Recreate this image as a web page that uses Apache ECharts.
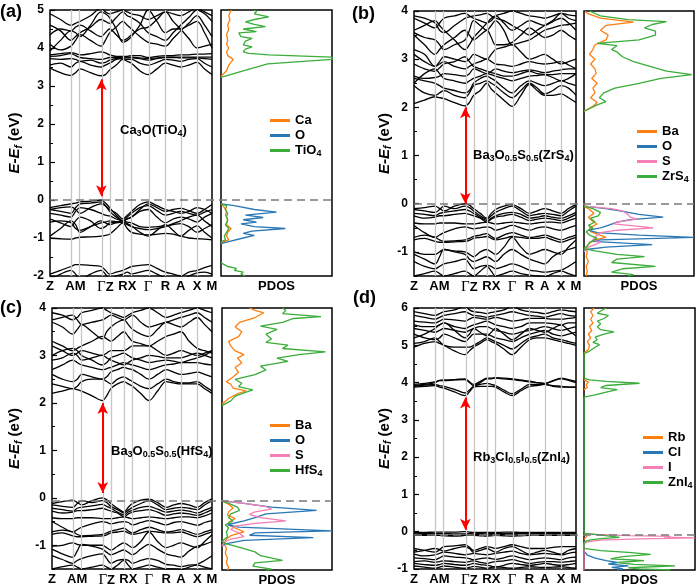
<!DOCTYPE html>
<html><head><meta charset="utf-8">
<script src="https://cdn.jsdelivr.net/npm/echarts@6/dist/echarts.min.js"></script>
<style>html,body{margin:0;padding:0;background:#fff}#c{width:700px;height:588px}</style>
</head><body><div id="c"></div><script>
// ---------- k-path ----------
const kPos = [0,0.065,0.13,0.158,0.185,0.25,0.315,0.342,0.368,0.409,0.45,0.477,0.503,0.555,0.606,0.66,0.713,0.76,0.806,0.857,0.908,0.954,1.0];
const symK = [0.13,0.185,0.315,0.368,0.45,0.503,0.606,0.713,0.806,0.908];
const kLabelPos = [0,0.157,0.342,0.477,0.606,0.713,0.806,0.908,1];
const kLabels = ['Z','AM','ΓZ','RX','Γ','R','A','X','M'];
const gammaK = 0.317;

// ---------- (a) Ca3O(TiO4) bands ----------
const bandsA = [
[3.47,3.35,3.28,3.35,3.45,3.35,3.27,3.3,3.42,3.55,3.7,3.65,3.6,3.4,3.3,3.45,3.6,3.55,3.5,3.55,3.62,3.45,3.3],
[3.55,3.6,3.5,3.6,3.65,3.55,3.5,3.55,3.6,3.7,3.72,3.7,3.7,3.6,3.55,3.62,3.7,3.68,3.65,3.7,3.72,3.6,3.5],
[3.72,3.7,3.72,3.7,3.65,3.68,3.6,3.62,3.68,3.72,3.74,3.74,3.74,3.72,3.68,3.72,3.75,3.75,3.74,3.74,3.74,3.72,3.7],
[3.78,3.8,3.85,3.8,3.75,3.72,3.7,3.72,3.75,3.75,3.76,3.76,3.76,3.74,3.72,3.74,3.76,3.76,3.76,3.76,3.76,3.76,3.76],
[3.82,3.85,3.88,3.85,3.82,3.85,3.9,3.87,3.82,3.78,3.78,3.78,3.8,3.8,3.75,3.78,3.8,3.8,3.82,3.82,3.84,3.84,3.85],
[3.92,4.2,4.45,4.4,4.3,4.6,4.95,4.9,4.8,4.5,4.15,4.2,4.3,4.6,5.0,4.7,4.4,4.5,4.5,4.6,4.7,4.4,4.0],
[4.35,4.5,4.45,4.55,4.6,4.45,4.3,4.4,4.5,4.35,4.2,4.25,4.35,4.5,4.55,4.75,4.95,4.7,4.5,4.25,4.0,4.05,4.1],
[4.6,4.45,4.2,4.3,4.4,4.55,4.75,4.7,4.65,4.8,4.95,4.85,4.8,4.65,4.4,4.3,4.2,4.4,4.6,4.8,5.0,4.9,4.7],
[4.9,4.75,4.6,4.65,4.7,4.85,5.05,4.95,4.9,4.95,5.0,4.95,4.9,4.85,4.75,4.85,4.95,4.9,4.85,4.95,5.05,4.95,4.85],
[4.1,3.95,4.05,4.2,4.35,4.2,4.05,4.2,4.4,4.55,4.7,4.6,4.5,4.3,4.15,4.1,4.05,4.25,4.45,4.65,4.85,4.6,4.3],
[-0.2,-0.15,-0.1,-0.08,-0.05,-0.03,0,-0.08,-0.2,-0.4,-0.55,-0.5,-0.45,-0.25,-0.1,-0.2,-0.3,-0.25,-0.22,-0.28,-0.35,-0.25,-0.12],
[-0.25,-0.3,-0.35,-0.2,-0.1,-0.08,-0.05,-0.15,-0.3,-0.45,-0.55,-0.45,-0.35,-0.2,-0.15,-0.28,-0.4,-0.35,-0.3,-0.35,-0.4,-0.32,-0.25],
[-0.35,-0.4,-0.45,-0.3,-0.2,-0.25,-0.35,-0.4,-0.42,-0.5,-0.55,-0.5,-0.45,-0.3,-0.25,-0.45,-0.6,-0.5,-0.45,-0.5,-0.58,-0.45,-0.35],
[-0.5,-0.6,-0.7,-0.55,-0.45,-0.55,-0.75,-0.7,-0.6,-0.58,-0.55,-0.58,-0.6,-0.7,-0.72,-0.7,-0.68,-0.65,-0.62,-0.7,-0.85,-0.75,-0.65],
[-0.58,-0.55,-0.6,-0.75,-0.8,-0.7,-0.6,-0.58,-0.55,-0.57,-0.6,-0.65,-0.7,-0.75,-0.78,-0.75,-0.7,-0.62,-0.55,-0.45,-0.4,-0.55,-0.7],
[-0.95,-0.75,-0.55,-0.65,-0.85,-0.7,-0.55,-0.6,-0.65,-0.6,-0.58,-0.62,-0.68,-0.85,-0.95,-0.8,-0.65,-0.8,-0.95,-0.8,-0.68,-0.85,-1.0],
[-1.0,-1.02,-1.03,-1.0,-0.98,-0.97,-0.95,-0.93,-0.9,-0.75,-0.6,-0.75,-0.85,-0.9,-0.92,-0.9,-0.88,-0.9,-0.95,-1.0,-1.02,-1.03,-1.05],
[-0.25,-0.2,-0.18,-0.25,-0.35,-0.2,-0.1,-0.15,-0.25,-0.35,-0.5,-0.4,-0.3,-0.12,-0.05,-0.15,-0.25,-0.3,-0.35,-0.3,-0.2,-0.25,-0.35],
[-1.95,-1.85,-1.75,-1.7,-1.7,-1.72,-1.75,-1.85,-1.95,-1.9,-1.85,-1.8,-1.75,-1.72,-1.7,-1.8,-1.9,-1.95,-2.0,-1.9,-1.85,-1.78,-1.72],
[-2.1,-1.95,-1.85,-1.95,-2.1,-1.95,-1.85,-1.95,-2.1,-2.0,-1.95,-1.9,-1.95,-1.9,-1.85,-1.95,-2.05,-2.1,-2.1,-2.0,-1.92,-1.9,-1.95]
];
// ---------- (b) Ba3O0.5S0.5(ZrS4) bands ----------
const bandsB = [
[2.08,2.15,2.22,2.2,2.18,2.1,2.03,2.1,2.25,2.35,2.5,2.38,2.3,2.15,2.02,2.25,2.48,2.35,2.25,2.25,2.28,2.2,2.1],
[2.45,2.3,2.25,2.3,2.35,2.25,2.2,2.3,2.45,2.5,2.55,2.5,2.45,2.3,2.2,2.35,2.5,2.4,2.28,2.35,2.45,2.4,2.25],
[2.6,2.55,2.5,2.45,2.4,2.35,2.3,2.35,2.5,2.6,2.65,2.6,2.55,2.4,2.3,2.45,2.55,2.5,2.45,2.5,2.55,2.5,2.45],
[2.5,2.7,2.8,2.7,2.6,2.55,2.5,2.55,2.6,2.65,2.7,2.68,2.65,2.6,2.55,2.6,2.65,2.66,2.68,2.68,2.7,2.7,2.7],
[2.65,2.6,2.62,2.65,2.7,2.68,2.65,2.7,2.8,2.75,2.7,2.75,2.8,2.75,2.72,2.75,2.78,2.75,2.72,2.75,2.78,2.8,2.8],
[3.1,2.95,2.85,2.9,2.95,2.85,2.8,2.85,2.9,2.95,3.0,2.95,2.9,2.88,2.85,2.9,2.95,2.92,2.9,2.92,2.95,2.88,2.8],
[3.2,3.1,2.85,2.95,3.05,3.0,2.95,3.0,3.1,3.05,3.0,3.1,3.2,3.25,3.3,3.15,3.0,3.05,3.1,3.0,2.9,2.95,3.0],
[3.5,3.3,3.1,3.2,3.3,3.45,3.6,3.5,3.4,3.5,3.6,3.45,3.3,3.3,3.35,3.5,3.65,3.55,3.45,3.5,3.6,3.5,3.4],
[3.55,3.45,3.4,3.3,3.2,3.3,3.4,3.6,3.8,3.7,3.6,3.7,3.8,3.6,3.3,3.35,3.4,3.5,3.6,3.65,3.7,3.72,3.75],
[3.6,3.7,3.8,3.7,3.6,3.4,3.2,3.3,3.45,3.6,3.75,3.85,3.9,3.75,3.6,3.7,3.8,3.75,3.7,3.78,3.85,3.75,3.6],
[3.85,3.75,3.65,3.75,3.85,3.9,3.95,3.9,3.85,3.8,3.75,3.8,3.9,3.95,4.0,3.95,3.9,3.88,3.85,3.9,3.95,3.92,3.9],
[3.9,3.85,3.75,3.6,3.55,3.7,3.85,3.88,3.9,3.92,3.95,3.9,3.85,3.8,3.7,3.6,3.5,3.6,3.7,3.8,3.95,3.85,3.8],
[2.9,2.8,2.75,2.82,2.9,2.95,3.05,2.95,2.85,2.8,2.75,2.72,2.7,2.65,2.65,2.7,2.75,2.7,2.68,2.62,2.55,2.6,2.7],
[-0.1,-0.08,-0.05,-0.1,-0.15,-0.05,0,-0.03,-0.1,-0.2,-0.3,-0.2,-0.12,-0.05,-0.02,-0.1,-0.2,-0.15,-0.1,-0.15,-0.2,-0.1,-0.02],
[-0.12,-0.15,-0.18,-0.12,-0.05,-0.1,-0.05,-0.08,-0.15,-0.25,-0.32,-0.25,-0.18,-0.1,-0.05,-0.15,-0.25,-0.22,-0.2,-0.22,-0.25,-0.15,-0.05],
[-0.2,-0.22,-0.25,-0.2,-0.18,-0.15,-0.12,-0.15,-0.2,-0.28,-0.35,-0.3,-0.25,-0.2,-0.18,-0.22,-0.3,-0.28,-0.25,-0.28,-0.3,-0.25,-0.18],
[-0.25,-0.3,-0.28,-0.25,-0.25,-0.22,-0.2,-0.22,-0.25,-0.3,-0.38,-0.32,-0.28,-0.25,-0.22,-0.28,-0.35,-0.32,-0.3,-0.32,-0.35,-0.3,-0.22],
[-0.4,-0.42,-0.42,-0.4,-0.4,-0.4,-0.42,-0.42,-0.42,-0.4,-0.38,-0.4,-0.42,-0.4,-0.38,-0.4,-0.42,-0.4,-0.38,-0.38,-0.4,-0.35,-0.3],
[-0.45,-0.6,-0.7,-0.65,-0.6,-0.52,-0.48,-0.5,-0.52,-0.5,-0.48,-0.5,-0.55,-0.5,-0.45,-0.5,-0.55,-0.5,-0.48,-0.52,-0.55,-0.5,-0.45],
[-0.7,-0.65,-0.7,-0.75,-0.78,-0.77,-0.75,-0.72,-0.68,-0.65,-0.62,-0.68,-0.72,-0.65,-0.6,-0.65,-0.7,-0.68,-0.65,-0.7,-0.75,-0.7,-0.65],
[-0.75,-0.72,-0.78,-0.8,-0.8,-0.79,-0.78,-0.76,-0.72,-0.7,-0.68,-0.72,-0.75,-0.72,-0.68,-0.7,-0.72,-0.72,-0.7,-0.75,-0.8,-0.75,-0.7],
[-1.0,-1.05,-1.05,-1.0,-0.95,-0.98,-1.0,-1.05,-1.1,-1.0,-0.95,-1.0,-1.05,-0.9,-0.7,-0.9,-1.05,-1.0,-0.95,-1.0,-1.05,-0.9,-0.75],
[-1.05,-1.15,-1.25,-1.1,-0.95,-1.0,-1.05,-1.15,-1.2,-1.15,-1.1,-1.15,-1.2,-1.05,-0.95,-1.05,-1.15,-1.2,-1.25,-1.1,-1.0,-0.95,-0.9],
[-1.2,-1.3,-1.35,-1.3,-1.25,-1.2,-1.15,-1.25,-1.35,-1.3,-1.28,-1.3,-1.35,-1.3,-1.25,-1.3,-1.38,-1.4,-1.42,-1.4,-1.38,-1.3,-1.2],
[-1.5,-1.45,-1.4,-1.45,-1.5,-1.45,-1.4,-1.45,-1.5,-1.4,-1.3,-1.4,-1.5,-1.45,-1.4,-1.45,-1.48,-1.5,-1.52,-1.45,-1.4,-1.45,-1.5]
];
// ---------- (c) Ba3O0.5S0.5(HfS4) bands ----------
const bandsC = [
[2.2,2.25,2.3,2.28,2.25,2.15,2.05,2.15,2.3,2.4,2.45,2.4,2.35,2.2,2.05,2.25,2.45,2.42,2.4,2.4,2.4,2.3,2.2],
[2.4,2.35,2.3,2.35,2.45,2.5,2.5,2.45,2.4,2.5,2.55,2.5,2.45,2.35,2.3,2.4,2.5,2.45,2.42,2.42,2.45,2.35,2.25],
[2.6,2.5,2.45,2.5,2.6,2.55,2.5,2.55,2.65,2.7,2.75,2.72,2.7,2.6,2.5,2.6,2.7,2.65,2.6,2.62,2.65,2.6,2.55],
[2.7,2.8,2.9,2.85,2.8,2.75,2.7,2.72,2.75,2.8,2.85,2.82,2.8,2.75,2.7,2.75,2.8,2.82,2.85,2.85,2.85,2.82,2.8],
[2.9,2.95,3.05,3.0,2.9,2.95,3.0,2.95,2.9,2.85,2.8,2.85,2.9,2.95,3.0,2.98,2.95,2.95,2.95,3.0,3.05,3.0,2.95],
[3.2,3.1,3.0,3.05,3.1,3.05,3.0,3.05,3.1,3.1,3.1,3.15,3.2,3.2,3.2,3.1,3.0,3.05,3.1,3.05,3.0,3.05,3.1],
[3.3,3.2,3.1,3.15,3.2,3.3,3.4,3.35,3.3,3.4,3.5,3.4,3.3,3.25,3.2,3.3,3.4,3.45,3.5,3.3,3.15,3.1,3.05],
[3.7,3.6,3.45,3.55,3.65,3.5,3.35,3.5,3.6,3.7,3.75,3.65,3.55,3.45,3.4,3.55,3.7,3.65,3.6,3.7,3.8,3.65,3.5],
[3.75,3.8,3.85,3.75,3.65,3.7,3.75,3.8,3.85,3.8,3.75,3.8,3.85,3.7,3.6,3.65,3.7,3.75,3.8,3.85,3.9,3.8,3.7],
[3.9,3.85,3.75,3.8,3.9,3.95,4.0,3.95,3.9,3.85,3.8,3.85,3.9,3.95,4.0,3.9,3.8,3.85,3.9,3.95,4.0,3.95,3.9],
[3.0,3.1,3.15,3.1,3.0,2.9,2.8,2.85,2.95,3.0,3.05,3.0,2.95,2.9,2.85,2.88,2.9,2.88,2.85,2.9,2.95,3.0,3.1],
[-0.12,-0.08,-0.05,-0.1,-0.15,-0.06,0,-0.04,-0.12,-0.22,-0.3,-0.2,-0.12,-0.05,-0.03,-0.1,-0.2,-0.15,-0.12,-0.15,-0.2,-0.1,-0.02],
[-0.15,-0.18,-0.2,-0.12,-0.06,-0.1,-0.06,-0.1,-0.18,-0.25,-0.32,-0.26,-0.2,-0.12,-0.06,-0.15,-0.25,-0.22,-0.2,-0.22,-0.25,-0.15,-0.06],
[-0.22,-0.25,-0.28,-0.22,-0.2,-0.17,-0.14,-0.18,-0.22,-0.3,-0.36,-0.3,-0.26,-0.2,-0.18,-0.24,-0.3,-0.28,-0.26,-0.28,-0.32,-0.26,-0.2],
[-0.28,-0.32,-0.3,-0.27,-0.27,-0.25,-0.22,-0.25,-0.28,-0.32,-0.4,-0.34,-0.3,-0.27,-0.25,-0.3,-0.37,-0.34,-0.32,-0.34,-0.37,-0.32,-0.25],
[-0.42,-0.44,-0.44,-0.42,-0.42,-0.42,-0.44,-0.44,-0.44,-0.42,-0.4,-0.42,-0.44,-0.42,-0.4,-0.42,-0.44,-0.42,-0.4,-0.4,-0.42,-0.38,-0.32],
[-0.5,-0.62,-0.72,-0.67,-0.62,-0.55,-0.5,-0.52,-0.55,-0.52,-0.5,-0.52,-0.57,-0.52,-0.48,-0.52,-0.57,-0.52,-0.5,-0.54,-0.58,-0.52,-0.48],
[-0.72,-0.68,-0.72,-0.77,-0.8,-0.79,-0.77,-0.74,-0.7,-0.67,-0.64,-0.7,-0.74,-0.67,-0.62,-0.67,-0.72,-0.7,-0.67,-0.72,-0.77,-0.72,-0.67],
[-0.77,-0.74,-0.8,-0.82,-0.82,-0.81,-0.8,-0.78,-0.74,-0.72,-0.7,-0.74,-0.77,-0.74,-0.7,-0.72,-0.74,-0.74,-0.72,-0.77,-0.82,-0.77,-0.72],
[-1.02,-1.0,-0.95,-0.98,-1.0,-1.0,-1.0,-1.05,-1.1,-1.02,-0.95,-1.0,-1.05,-0.92,-0.72,-0.92,-1.05,-1.0,-0.95,-1.0,-1.05,-0.92,-0.78],
[-1.08,-1.18,-1.25,-1.12,-0.98,-1.02,-1.08,-1.15,-1.2,-1.15,-1.1,-1.15,-1.2,-1.08,-0.98,-1.08,-1.18,-1.22,-1.25,-1.12,-1.02,-0.98,-0.92],
[-1.22,-1.3,-1.38,-1.32,-1.28,-1.22,-1.18,-1.28,-1.38,-1.32,-1.3,-1.32,-1.38,-1.32,-1.28,-1.32,-1.4,-1.42,-1.45,-1.42,-1.4,-1.32,-1.22],
[-1.5,-1.45,-1.42,-1.46,-1.5,-1.46,-1.42,-1.46,-1.5,-1.42,-1.32,-1.42,-1.5,-1.46,-1.42,-1.46,-1.5,-1.5,-1.52,-1.46,-1.42,-1.46,-1.5]
];
// ---------- (d) Rb3Cl0.5I0.5(ZnI4) bands ----------
const bandsD = [
[3.88,3.9,3.92,3.88,3.85,3.75,3.65,3.75,3.88,3.9,3.9,3.9,3.88,3.75,3.65,3.78,3.9,3.92,3.95,3.9,3.88,3.88,3.88],
[3.9,3.93,3.95,3.92,3.9,3.82,3.72,3.8,3.9,3.95,3.98,3.95,3.92,3.8,3.7,3.82,3.95,3.95,3.95,3.92,3.9,3.88,3.88],
[3.92,3.95,4.0,4.05,4.05,4.07,4.08,4.0,3.92,4.0,4.1,4.1,4.12,4.1,4.08,4.05,4.02,4.0,3.98,4.05,4.12,4.08,4.03],
[3.95,3.98,4.02,4.06,4.07,4.08,4.1,4.02,3.95,4.03,4.12,4.12,4.13,4.12,4.1,4.07,4.04,4.0,3.97,4.04,4.1,4.06,4.0],
[4.95,5.05,5.1,5.05,5.0,4.85,4.75,4.85,4.95,5.05,5.15,5.1,5.05,4.9,4.75,4.95,5.15,5.2,5.2,5.15,5.1,5.05,5.0],
[5.05,5.1,5.2,5.1,5.0,4.95,4.95,4.95,5.0,5.1,5.2,5.15,5.1,5.0,4.9,5.05,5.2,5.25,5.3,5.2,5.15,5.1,5.05],
[5.3,5.2,5.15,5.2,5.3,5.2,5.1,5.2,5.3,5.3,5.3,5.25,5.2,5.15,5.1,5.2,5.3,5.35,5.4,5.3,5.25,5.3,5.35],
[5.45,5.4,5.35,5.4,5.45,5.4,5.35,5.4,5.45,5.5,5.5,5.45,5.4,5.35,5.3,5.35,5.4,5.45,5.5,5.45,5.4,5.45,5.5],
[5.55,5.5,5.5,5.55,5.6,5.5,5.45,5.5,5.55,5.6,5.65,5.6,5.55,5.5,5.45,5.5,5.6,5.6,5.6,5.58,5.55,5.6,5.6],
[5.65,5.62,5.6,5.65,5.7,5.68,5.65,5.7,5.75,5.72,5.7,5.72,5.75,5.7,5.65,5.68,5.72,5.72,5.72,5.7,5.7,5.72,5.75],
[5.8,5.75,5.7,5.75,5.8,5.85,5.9,5.85,5.8,5.78,5.75,5.78,5.8,5.85,5.9,5.85,5.8,5.78,5.75,5.8,5.85,5.8,5.78],
[5.9,5.85,5.8,5.85,5.9,5.95,6.05,5.95,5.9,5.88,5.85,5.88,5.9,5.95,6.05,5.95,5.9,5.88,5.85,5.9,5.95,5.92,5.9],
[5.2,5.3,5.45,5.55,5.6,5.4,5.2,5.3,5.45,5.35,5.25,5.35,5.45,5.3,5.15,5.3,5.45,5.4,5.35,5.45,5.55,5.4,5.25],
[-0.02,-0.02,-0.01,-0.01,-0.01,-0.01,0,-0.01,-0.02,-0.02,-0.02,-0.02,-0.02,-0.01,-0.01,-0.02,-0.02,-0.02,-0.02,-0.02,-0.02,-0.02,-0.02],
[-0.04,-0.05,-0.05,-0.05,-0.05,-0.06,-0.06,-0.05,-0.04,-0.05,-0.06,-0.05,-0.05,-0.05,-0.05,-0.05,-0.05,-0.05,-0.05,-0.05,-0.05,-0.05,-0.05],
[-0.08,-0.08,-0.09,-0.1,-0.11,-0.12,-0.1,-0.09,-0.08,-0.08,-0.09,-0.08,-0.08,-0.08,-0.08,-0.09,-0.09,-0.09,-0.09,-0.09,-0.09,-0.09,-0.08],
[-0.1,-0.1,-0.1,-0.1,-0.1,-0.1,-0.1,-0.1,-0.1,-0.11,-0.12,-0.11,-0.1,-0.11,-0.12,-0.11,-0.1,-0.1,-0.1,-0.1,-0.1,-0.1,-0.1],
[-0.45,-0.5,-0.55,-0.48,-0.4,-0.38,-0.35,-0.42,-0.5,-0.45,-0.4,-0.42,-0.45,-0.4,-0.35,-0.4,-0.45,-0.45,-0.45,-0.42,-0.4,-0.4,-0.4],
[-0.55,-0.5,-0.45,-0.48,-0.52,-0.45,-0.4,-0.45,-0.55,-0.5,-0.45,-0.5,-0.55,-0.45,-0.4,-0.5,-0.6,-0.55,-0.5,-0.55,-0.6,-0.5,-0.45],
[-0.6,-0.65,-0.62,-0.58,-0.55,-0.58,-0.62,-0.6,-0.58,-0.6,-0.62,-0.6,-0.58,-0.55,-0.52,-0.58,-0.62,-0.6,-0.58,-0.6,-0.62,-0.58,-0.55],
[-0.7,-0.72,-0.75,-0.7,-0.65,-0.68,-0.7,-0.72,-0.75,-0.72,-0.7,-0.72,-0.74,-0.7,-0.65,-0.7,-0.75,-0.72,-0.7,-0.72,-0.75,-0.7,-0.68],
[-0.8,-0.78,-0.82,-0.8,-0.78,-0.8,-0.82,-0.8,-0.78,-0.82,-0.85,-0.82,-0.8,-0.78,-0.75,-0.8,-0.85,-0.82,-0.8,-0.8,-0.82,-0.8,-0.78],
[-0.85,-0.88,-0.9,-0.88,-0.85,-0.88,-0.9,-0.88,-0.85,-0.88,-0.9,-0.92,-0.95,-0.9,-0.85,-0.88,-0.9,-0.88,-0.85,-0.88,-0.9,-0.88,-0.85],
[-0.92,-0.95,-0.98,-0.95,-0.92,-0.95,-0.98,-0.96,-0.93,-0.95,-0.98,-0.96,-0.94,-0.96,-0.98,-0.96,-0.94,-0.95,-0.96,-0.95,-0.94,-0.96,-0.98]
];

// ---------- PDOS: [energy, dos] segments ----------
const caA_v = [[-1.15,0],[-1.1,0.02],[-1.05,0.07],[-0.95,0.05],[-0.85,0.06],[-0.75,0.09],[-0.65,0.05],[-0.5,0.06],[-0.4,0.04],[-0.3,0.05],[-0.2,0.03],[-0.12,0.01],[-0.1,0]];
const caA_c = [[3.25,0],[3.4,0.05],[3.55,0.07],[3.7,0.11],[3.8,0.06],[3.9,0.05],[4.0,0.07],[4.1,0.05],[4.2,0.06],[4.35,0.05],[4.5,0.07],[4.6,0.06],[4.75,0.08],[4.85,0.07],[5,0.09]];
const oA_v = [[-1.15,0],[-1.1,0.06],[-1.0,0.2],[-0.93,0.3],[-0.88,0.2],[-0.82,0.28],[-0.75,0.58],[-0.7,0.3],[-0.63,0.18],[-0.58,0.32],[-0.52,0.2],[-0.46,0.38],[-0.4,0.22],[-0.32,0.5],[-0.25,0.3],[-0.15,0.12],[-0.1,0]];
const tiA_low = [[-2,0.22],[-1.95,0.18],[-1.9,0.2],[-1.85,0.12],[-1.8,0.14],[-1.75,0.06],[-1.7,0.03],[-1.65,0]];
const tiA_v = [[-1.1,0],[-1.05,0.04],[-0.95,0.03],[-0.85,0.05],[-0.75,0.07],[-0.65,0.04],[-0.55,0.06],[-0.45,0.05],[-0.35,0.06],[-0.25,0.04],[-0.15,0.05],[-0.1,0]];
const tiA_c = [[3.23,0],[3.4,0.2],[3.58,0.42],[3.7,1.0],[3.76,1.0],[3.82,0.43],[3.86,0.25],[3.9,0.2],[3.97,0.22],[4.03,0.28],[4.08,0.2],[4.18,0.22],[4.25,0.28],[4.3,0.18],[4.4,0.16],[4.43,0.32],[4.5,0.2],[4.56,0.4],[4.62,0.3],[4.69,0.22],[4.75,0.3],[4.82,0.43],[4.9,0.3],[4.96,0.32],[5,0.3]];

const baB_v = [[-0.05,0],[-0.12,0.05],[-0.2,0.09],[-0.28,0.04],[-0.35,0.07],[-0.42,0.12],[-0.5,0.05],[-0.58,0.06],[-0.63,0.12],[-0.7,0.2],[-0.75,0.1],[-0.82,0.05],[-0.9,0.02],[-1.0,0.03],[-1.1,0.02],[-1.2,0.04],[-1.3,0.02],[-1.4,0.03],[-1.5,0.02]];
const baB_c = [[1.92,0],[2.02,0.08],[2.1,0.12],[2.2,0.06],[2.3,0.1],[2.4,0.08],[2.5,0.12],[2.6,0.07],[2.7,0.11],[2.8,0.1],[2.9,0.06],[3.0,0.1],[3.1,0.05],[3.2,0.08],[3.3,0.1],[3.4,0.2],[3.5,0.22],[3.6,0.15],[3.7,0.2],[3.77,0.45],[3.85,0.15],[3.95,0.03],[4,0.01]];
const oB_v = [[-0.05,0],[-0.1,0.2],[-0.17,0.38],[-0.22,0.5],[-0.28,0.72],[-0.33,0.42],[-0.38,0.3],[-0.45,0.22],[-0.5,0.15],[-0.55,0.04],[-0.6,0.12],[-0.65,0.5],[-0.7,1.0],[-0.75,0.15],[-0.78,0.08],[-0.85,0.62],[-0.9,0.2],[-0.95,0.02],[-1.0,0]];
const sB_v = [[-0.05,0],[-0.1,0.25],[-0.15,0.35],[-0.22,0.4],[-0.28,0.42],[-0.32,0.48],[-0.38,0.3],[-0.42,0.27],[-0.47,0.5],[-0.5,0.63],[-0.55,0.3],[-0.6,0.15],[-0.65,0.12],[-0.7,0.1],[-0.75,0.08],[-0.8,0.15],[-0.85,0.1],[-0.9,0.04],[-1.0,0]];
const zrB_v = [[-0.05,0],[-0.1,0.08],[-0.18,0.15],[-0.25,0.13],[-0.3,0.06],[-0.38,0.1],[-0.45,0.04],[-0.5,0.08],[-0.58,0.02],[-0.65,0.05],[-0.72,0.12],[-0.8,0.05],[-0.88,0.03],[-0.93,0],[-0.98,0.1],[-1.05,0.3],[-1.1,0.55],[-1.15,0.3],[-1.22,0.25],[-1.3,0.65],[-1.35,0.35],[-1.42,0.25],[-1.47,0.45],[-1.5,0.4]];
const zrB_c = [[1.92,0],[2.05,0.12],[2.12,0.2],[2.2,0.14],[2.3,0.18],[2.4,0.28],[2.5,0.5],[2.6,0.7],[2.68,0.98],[2.75,0.75],[2.85,0.6],[2.95,0.45],[3.05,0.35],[3.15,0.3],[3.2,0.25],[3.28,0.3],[3.33,0.12],[3.4,0.5],[3.5,0.65],[3.58,0.65],[3.65,0.55],[3.72,0.62],[3.78,0.75],[3.82,0.4],[3.9,0.15],[4,0.05]];

const baC_v = [[-0.05,0],[-0.12,0.06],[-0.2,0.1],[-0.28,0.06],[-0.35,0.05],[-0.42,0.12],[-0.5,0.06],[-0.58,0.08],[-0.65,0.15],[-0.7,0.2],[-0.78,0.08],[-0.85,0.04],[-0.95,0.02],[-1.05,0.04],[-1.15,0.03],[-1.25,0.05],[-1.35,0.04],[-1.45,0.06],[-1.5,0.05]];
const baC_c = [[1.98,0],[2.1,0.06],[2.2,0.14],[2.26,0.22],[2.32,0.1],[2.4,0.08],[2.45,0.04],[2.55,0.1],[2.65,0.15],[2.75,0.12],[2.85,0.18],[2.95,0.14],[3.02,0.2],[3.1,0.12],[3.2,0.08],[3.3,0.06],[3.4,0.15],[3.5,0.18],[3.6,0.12],[3.7,0.16],[3.8,0.3],[3.9,0.38],[3.95,0.3],[4,0.25]];
const oC_v = [[-0.05,0],[-0.1,0.2],[-0.18,0.45],[-0.25,0.86],[-0.32,0.4],[-0.4,0.3],[-0.47,0.2],[-0.55,0.05],[-0.6,0.15],[-0.68,1.0],[-0.72,0.3],[-0.77,0.25],[-0.82,0.83],[-0.88,0.2],[-0.95,0.03],[-1.0,0]];
const sC_v = [[-0.05,0],[-0.1,0.2],[-0.17,0.4],[-0.22,0.45],[-0.28,0.3],[-0.33,0.25],[-0.4,0.35],[-0.47,0.58],[-0.52,0.3],[-0.58,0.12],[-0.65,0.08],[-0.72,0.15],[-0.8,0.2],[-0.85,0.08],[-0.92,0.02],[-1.0,0]];
const hfC_v = [[-0.05,0],[-0.1,0.06],[-0.18,0.14],[-0.25,0.16],[-0.32,0.08],[-0.4,0.06],[-0.47,0.1],[-0.55,0.03],[-0.62,0.06],[-0.7,0.04],[-0.8,0.05],[-0.9,0],[-0.95,0.04],[-1.0,0.12],[-1.05,0.2],[-1.12,0.3],[-1.2,0.35],[-1.3,0.55],[-1.35,0.3],[-1.42,0.28],[-1.48,0.45],[-1.5,0.4]];
const hfC_c = [[1.95,0],[2.05,0.08],[2.15,0.12],[2.22,0.2],[2.28,0.28],[2.35,0.15],[2.42,0.18],[2.5,0.12],[2.6,0.3],[2.7,0.4],[2.78,0.35],[2.88,0.6],[2.95,0.5],[3.02,0.7],[3.08,0.94],[3.15,0.55],[3.22,0.6],[3.28,0.4],[3.35,0.45],[3.45,0.4],[3.55,0.5],[3.62,0.35],[3.7,0.55],[3.78,0.65],[3.82,0.9],[3.88,0.55],[3.95,0.58],[4,0.55]];

const rbD_v = [[-0.03,0],[-0.08,0.03],[-0.12,0.02],[-0.18,0]];
const rbD_c1 = [[3.82,0],[3.88,0.03],[3.95,0.02],[4.02,0.04],[4.08,0]];
const rbD_c2 = [[4.8,0],[4.9,0.04],[5.0,0.05],[5.1,0.03],[5.2,0.06],[5.3,0.04],[5.4,0.07],[5.5,0.05],[5.6,0.08],[5.7,0.06],[5.8,0.08],[5.9,0.06],[6,0.09]];
const clD_v = [[-0.5,0],[-0.6,0.03],[-0.68,0.1],[-0.75,0.2],[-0.8,0.3],[-0.84,0.22],[-0.89,0.4],[-0.93,0.25],[-0.97,0.35],[-1,0.3]];
const iD_v = [[-0.02,0],[-0.05,0.1],[-0.08,0.4],[-0.1,0.78],[-0.12,0.72],[-0.14,1.0],[-0.17,0.5],[-0.2,0.15],[-0.25,0.03],[-0.3,0],[-1,0]];
const znD_v = [[-0.02,0],[-0.05,0.1],[-0.1,0.25],[-0.13,0.32],[-0.16,0.15],[-0.2,0.05],[-0.25,0],[-0.42,0],[-0.48,0.15],[-0.53,0.4],[-0.58,0.6],[-0.64,0.35],[-0.7,0.24],[-0.75,0.54],[-0.8,0.3],[-0.85,0.45],[-0.89,0.82],[-0.94,0.4],[-0.97,0.5],[-1,0.78]];
const znD_c = [[0,0],[3.62,0],[3.68,0.1],[3.75,0.2],[3.82,0.3],[3.87,0.15],[3.93,0.2],[3.99,0.5],[4.04,0.2],[4.08,0.05],[4.12,0],[4.78,0],[4.85,0.05],[4.95,0.1],[5.02,0.14],[5.08,0.08],[5.15,0.12],[5.22,0.1],[5.3,0.18],[5.36,0.27],[5.42,0.15],[5.5,0.12],[5.58,0.15],[5.65,0.12],[5.72,0.18],[5.8,0.22],[5.86,0.12],[5.92,0.15],[6,0.2]];

// ---------- axis tick values ----------
const ticksA = [-2,-1,0,1,2,3,4,5], minorA = [-1.5,-0.5,0.5,1.5,2.5,3.5,4.5];
const ticksB = [-1,0,1,2,3,4], minorB = [-1.5,-0.5,0.5,1.5,2.5,3.5];
const ticksD = [-1,0,1,2,3,4,5,6], minorD = [-0.5,0.5,1.5,2.5,3.5,4.5,5.5];
const gapA = [0.1,3.18], gapB = [0.0,2.0], gapC = [0.1,2.0], gapD = [0.05,3.6];

const ORANGE='#ff7f0e', BLUE='#2a77b6', PINK='#f57fb5', GREEN='#3aad3a';
const FONT = 'Arial, "Liberation Sans", sans-serif';

const panels = [
 {bandRect:{left:50,top:10,width:162,height:266}, pdosRect:{left:221,top:10,width:111,height:266}, ymin:-2,ymax:5, ticks:ticksA, minor:minorA, bands:bandsA, gap:gapA, nameGap:26,
  pdos:[['Ca',caA_v,ORANGE],['Ca',caA_c,ORANGE],['O',oA_v,BLUE],['TiO4',tiA_low,GREEN],['TiO4',tiA_v,GREEN],['TiO4',tiA_c,GREEN]],
  legendNames:['Ca','O','TiO4'], legendPos:{left:265,top:109},
  label:'(a)', labelPos:[0,12], compound:'{n|Ca}{s|3}{n|O(TiO}{s|4}{n|)}', compPos:[120,130]},
 {bandRect:{left:414,top:11,width:162,height:265}, pdosRect:{left:584,top:11,width:110,height:265}, ymin:-1.5,ymax:4, ticks:ticksB, minor:minorB, bands:bandsB, gap:gapB, nameGap:20,
  pdos:[['Ba',baB_v,ORANGE],['Ba',baB_c,ORANGE],['O',oB_v,BLUE],['S',sB_v,PINK],['ZrS4',zrB_v,GREEN],['ZrS4',zrB_c,GREEN]],
  legendNames:['Ba','O','S','ZrS4'], legendPos:{left:632,top:120},
  label:'(b)', labelPos:[352,14], compound:'{n|Ba}{s|3}{n|O}{s|0.5}{n|S}{s|0.5}{n|(ZrS}{s|4}{n|)}', compPos:[473,155]},
 {bandRect:{left:52,top:308,width:160,height:265}, pdosRect:{left:222,top:308,width:110,height:265}, ymin:-1.5,ymax:4, ticks:ticksB, minor:minorB, bands:bandsC, gap:gapC, nameGap:28,
  pdos:[['Ba',baC_v,ORANGE],['Ba',baC_c,ORANGE],['O',oC_v,BLUE],['S',sC_v,PINK],['HfS4',hfC_v,GREEN],['HfS4',hfC_c,GREEN]],
  legendNames:['Ba','O','S','HfS4'], legendPos:{left:265,top:414},
  label:'(c)', labelPos:[0,308], compound:'{n|Ba}{s|3}{n|O}{s|0.5}{n|S}{s|0.5}{n|(HfS}{s|4}{n|)}', compPos:[111,451]},
 {bandRect:{left:414,top:308,width:162,height:265}, pdosRect:{left:584,top:308,width:111,height:265}, ymin:-1,ymax:6, ticks:ticksD, minor:minorD, bands:bandsD, gap:gapD, nameGap:20,
  pdos:[['Rb',rbD_v,ORANGE],['Rb',rbD_c1,ORANGE],['Rb',rbD_c2,ORANGE],['Cl',clD_v,BLUE],['I',iD_v,PINK],['ZnI4',znD_v,GREEN],['ZnI4',znD_c,GREEN]],
  legendNames:['Rb','Cl','I','ZnI4'], legendPos:{left:638,top:426},
  label:'(d)', labelPos:[353,298], compound:'{n|Rb}{s|3}{n|Cl}{s|0.5}{n|I}{s|0.5}{n|(ZnI}{s|4}{n|)}', compPos:[473,457]}
];

const subRich = {
  n:{fontSize:13,fontWeight:'bold',fontFamily:FONT,color:'#000',lineHeight:16},
  s:{fontSize:9,fontWeight:'bold',fontFamily:FONT,color:'#000',verticalAlign:'bottom',lineHeight:8}
};
function subFmt(name){ const m=name.match(/^(.*?)(\d)$/); return m ? '{n|'+m[1]+'}{s|'+m[2]+'}' : '{n|'+name+'}'; }

const grids=[], xAxes=[], yAxes=[], series=[], legends=[], graphics=[];
panels.forEach(p=>{
  const gb=grids.length; grids.push(Object.assign({show:true,borderColor:'#000',borderWidth:1.5,backgroundColor:'transparent'},p.bandRect));
  const gp=grids.length; grids.push(Object.assign({show:true,borderColor:'#000',borderWidth:1.5,backgroundColor:'transparent'},p.pdosRect));
  // invisible grid spanning band + PDOS frames, for the continuous Fermi-level line
  const gz=grids.length; grids.push({show:false,left:p.bandRect.left,top:p.bandRect.top,height:p.bandRect.height,
    width:(p.pdosRect.left+p.pdosRect.width)-p.bandRect.left});
  const xb=xAxes.length;
  xAxes.push({type:'value',gridIndex:gb,min:0,max:1,splitLine:{show:false},axisLine:{show:false},axisTick:{show:false},
    axisLabel:{customValues:kLabelPos,hideOverlap:false,showMinLabel:true,showMaxLabel:true,margin:4,
      fontSize:13,fontWeight:'bold',fontFamily:FONT,color:'#000',
      rich:{g:{fontFamily:'"Liberation Serif","DejaVu Serif",serif',fontWeight:'normal',fontSize:15,color:'#000'},
            t:{fontSize:13,fontWeight:'bold',fontFamily:FONT,color:'#000'}},
      formatter:v=>{ let best=0; kLabelPos.forEach((k,i)=>{ if(Math.abs(k-v)<Math.abs(kLabelPos[best]-v)) best=i; });
        const s=kLabels[best]; return s.split('').map(ch=> ch==='Γ' ? '{g|Γ}' : '{t|'+ch+'}').join(''); }}});
  const xp=xAxes.length;
  xAxes.push({type:'value',gridIndex:gp,min:0,max:1,splitLine:{show:false},axisLine:{show:false},axisTick:{show:false},axisLabel:{show:false},
    name:'PDOS',nameLocation:'middle',nameGap:4,nameTextStyle:{fontSize:13,fontWeight:'bold',fontFamily:FONT,color:'#000',verticalAlign:'top'}});
  const xz=xAxes.length;
  xAxes.push({type:'value',gridIndex:gz,min:0,max:1,show:false});
  const yb=yAxes.length;
  yAxes.push({type:'value',gridIndex:gb,position:'left',min:p.ymin,max:p.ymax,splitLine:{show:false},axisLine:{show:false},
    axisTick:{show:true,inside:true,length:5,customValues:p.ticks,lineStyle:{color:'#000',width:1.2}},
    axisLabel:{customValues:p.ticks,margin:6,fontSize:12,fontWeight:'bold',fontFamily:FONT,color:'#000',showMinLabel:true,showMaxLabel:true},
    name:'{i|E}{b|-}{i|E}{f|f}{b| (eV)}',nameLocation:'middle',nameGap:p.nameGap,
    nameTextStyle:{rich:{i:{fontSize:15,fontStyle:'italic',fontWeight:'bold',fontFamily:FONT,color:'#000',lineHeight:18},
      b:{fontSize:15,fontWeight:'bold',fontFamily:FONT,color:'#000',lineHeight:18},
      f:{fontSize:10,fontStyle:'italic',fontWeight:'bold',fontFamily:FONT,color:'#000',verticalAlign:'bottom',lineHeight:9}}}});
  yAxes.push({type:'value',gridIndex:gb,position:'left',offset:0,min:p.ymin,max:p.ymax,splitLine:{show:false},axisLine:{show:false},axisLabel:{show:false},
    axisTick:{show:true,inside:true,length:3,customValues:p.minor,lineStyle:{color:'#000',width:1}}});
  const yp=yAxes.length;
  yAxes.push({type:'value',gridIndex:gp,min:p.ymin,max:p.ymax,splitLine:{show:false},axisLine:{show:false},axisLabel:{show:false},axisTick:{show:false}});
  const yz=yAxes.length;
  yAxes.push({type:'value',gridIndex:gz,min:p.ymin,max:p.ymax,show:false});

  // vertical high-symmetry lines
  series.push({type:'line',xAxisIndex:xb,yAxisIndex:yb,data:[],silent:true,z:1,
    markLine:{silent:true,symbol:'none',animation:false,label:{show:false},lineStyle:{color:'#c6c6c6',width:1.3,type:'solid'},
      data:symK.map(k=>({xAxis:k}))}});
  // bands
  p.bands.forEach(b=>{
    series.push({type:'line',xAxisIndex:xb,yAxisIndex:yb,data:b.map((v,j)=>[kPos[j],v]),symbol:'none',smooth:0.35,silent:true,z:3,
      lineStyle:{color:'#000',width:1.3},animation:false});
  });
  // Fermi level (continuous across both frames) + gap arrow
  series.push({type:'line',xAxisIndex:xz,yAxisIndex:yz,data:[],silent:true,z:5,
    markLine:{silent:true,symbol:'none',animation:false,label:{show:false},lineStyle:{color:'#7a7a7a',width:1.5,type:[8,5]},data:[{yAxis:0}]}});
  series.push({type:'line',xAxisIndex:xb,yAxisIndex:yb,data:[],silent:true,z:6,
    markLine:{silent:true,symbol:['arrow','arrow'],symbolSize:[8,11],animation:false,label:{show:false},
      lineStyle:{color:'#ff0000',width:2,type:'solid'},itemStyle:{color:'#ff0000'},
      data:[[{coord:[gammaK,p.gap[0]]},{coord:[gammaK,p.gap[1]]}]]}});
  // PDOS
  p.pdos.forEach(([name,seg,col])=>{
    series.push({type:'line',name:name,xAxisIndex:xp,yAxisIndex:yp,data:seg.map(q=>[q[1],q[0]]),symbol:'none',silent:true,z:3,
      lineStyle:{color:col,width:1.3},itemStyle:{color:col},animation:false});
  });
  legends.push({orient:'vertical',left:p.legendPos.left,top:p.legendPos.top,icon:'rect',itemWidth:20,itemHeight:3,itemGap:2,
    data:p.legendNames,selectedMode:false,
    textStyle:{fontSize:13,fontWeight:'bold',fontFamily:FONT,color:'#000',rich:subRich},formatter:subFmt});
  graphics.push({type:'text',z:100,x:p.labelPos[0],y:p.labelPos[1],style:{text:p.label,font:'bold 18px '+FONT,fill:'#000',verticalAlign:'middle',align:'left'}});
  graphics.push({type:'text',z:100,x:p.compPos[0],y:p.compPos[1],style:{text:p.compound,verticalAlign:'middle',align:'left',
    rich:{n:{fontSize:13,fontWeight:'bold',fontFamily:FONT,fill:'#000',lineHeight:16},
          s:{fontSize:9,fontWeight:'bold',fontFamily:FONT,fill:'#000',verticalAlign:'bottom',lineHeight:8}}}});
});

const chart = echarts.init(document.getElementById('c'),null,{renderer:'canvas'});
chart.setOption({animation:false,backgroundColor:'#fff',grid:grids,xAxis:xAxes,yAxis:yAxes,series:series,legend:legends,graphic:graphics});
</script></body></html>
